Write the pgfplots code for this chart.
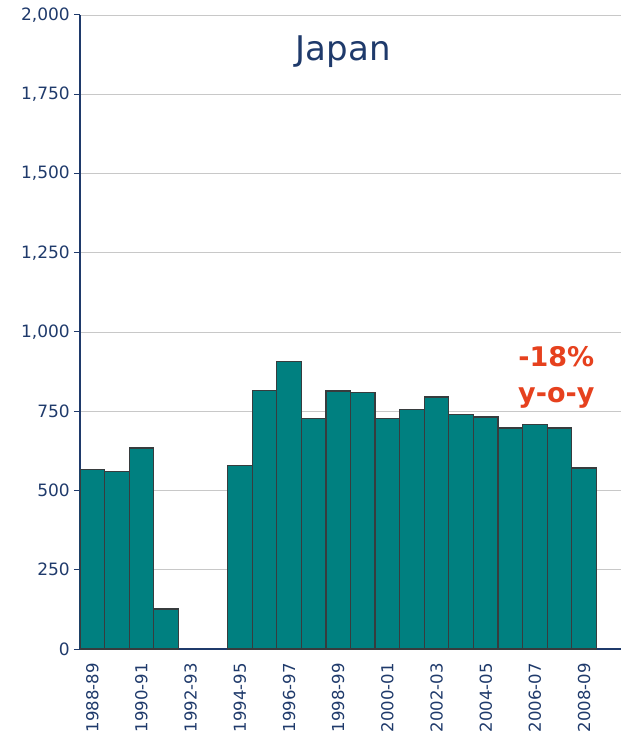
\documentclass[border=0pt]{standalone}
\usepackage{pgfplots}
\pgfplotsset{compat=1.18}
\usepackage{fontspec}
\setmainfont{DejaVu Sans}
\definecolor{navy}{RGB}{31,58,107}
\definecolor{tealbar}{RGB}{0,128,128}
\definecolor{barline}{RGB}{55,60,62}
\definecolor{redo}{RGB}{230,65,30}
\definecolor{gridc}{RGB}{200,200,200}
\begin{document}
\begin{tikzpicture}[x=1pt,y=1pt]
\path[use as bounding box] (-80,-93) rectangle (541,649);
\begin{axis}[at={(0,0)}, anchor=south west, scale only axis,
  width=541pt, height=634pt,
  xmin=-0.5, xmax=21.5, ymin=0, ymax=2000,
  axis x line=bottom, axis y line=left,
  axis line style={navy, line width=1.2pt, -},
  ytick={0,250,...,2000},
  /pgf/number format/assume math mode=true,
  /pgf/number format/1000 sep={,},
  yticklabel style={font=\fontsize{17}{17}\selectfont, text=navy, inner sep=0pt, xshift=-4pt},
  ymajorgrids, grid style={gridc, line width=0.8pt},
  xtick={0,2,...,20},
  xticklabels={1988-89,1990-91,1992-93,1994-95,1996-97,1998-99,2000-01,2002-03,2004-05,2006-07,2008-09},
  xticklabel style={rotate=90, anchor=east, font=\fontsize{16.5}{16.5}\selectfont, text=navy, inner sep=0pt, xshift=-8pt},
  xtick style={draw=none},
  ytick style={navy, line width=1pt},
  tick align=outside, major tick length=6pt,
  ybar, bar width=1,
]
\addplot[fill=tealbar, draw=barline, line width=1.2pt] coordinates {
 (0,565) (1,560) (2,634) (3,126)
 (6,580) (7,815) (8,906) (9,727) (10,814) (11,810) (12,727) (13,756)
 (14,795) (15,741) (16,732) (17,697) (18,707) (19,697) (20,571)
};
\node[font=\fontsize{34}{34}\selectfont, text=navy, anchor=base] at (axis cs:10.2,1855) {Japan};
\node[font=\fontsize{27}{27}\selectfont\bfseries, text=redo, anchor=base] at (axis cs:18.87,890) {-18\%};
\node[font=\fontsize{27}{27}\selectfont\bfseries, text=redo, anchor=base] at (axis cs:18.87,779) {y-o-y};
\end{axis}
\end{tikzpicture}
\end{document}
